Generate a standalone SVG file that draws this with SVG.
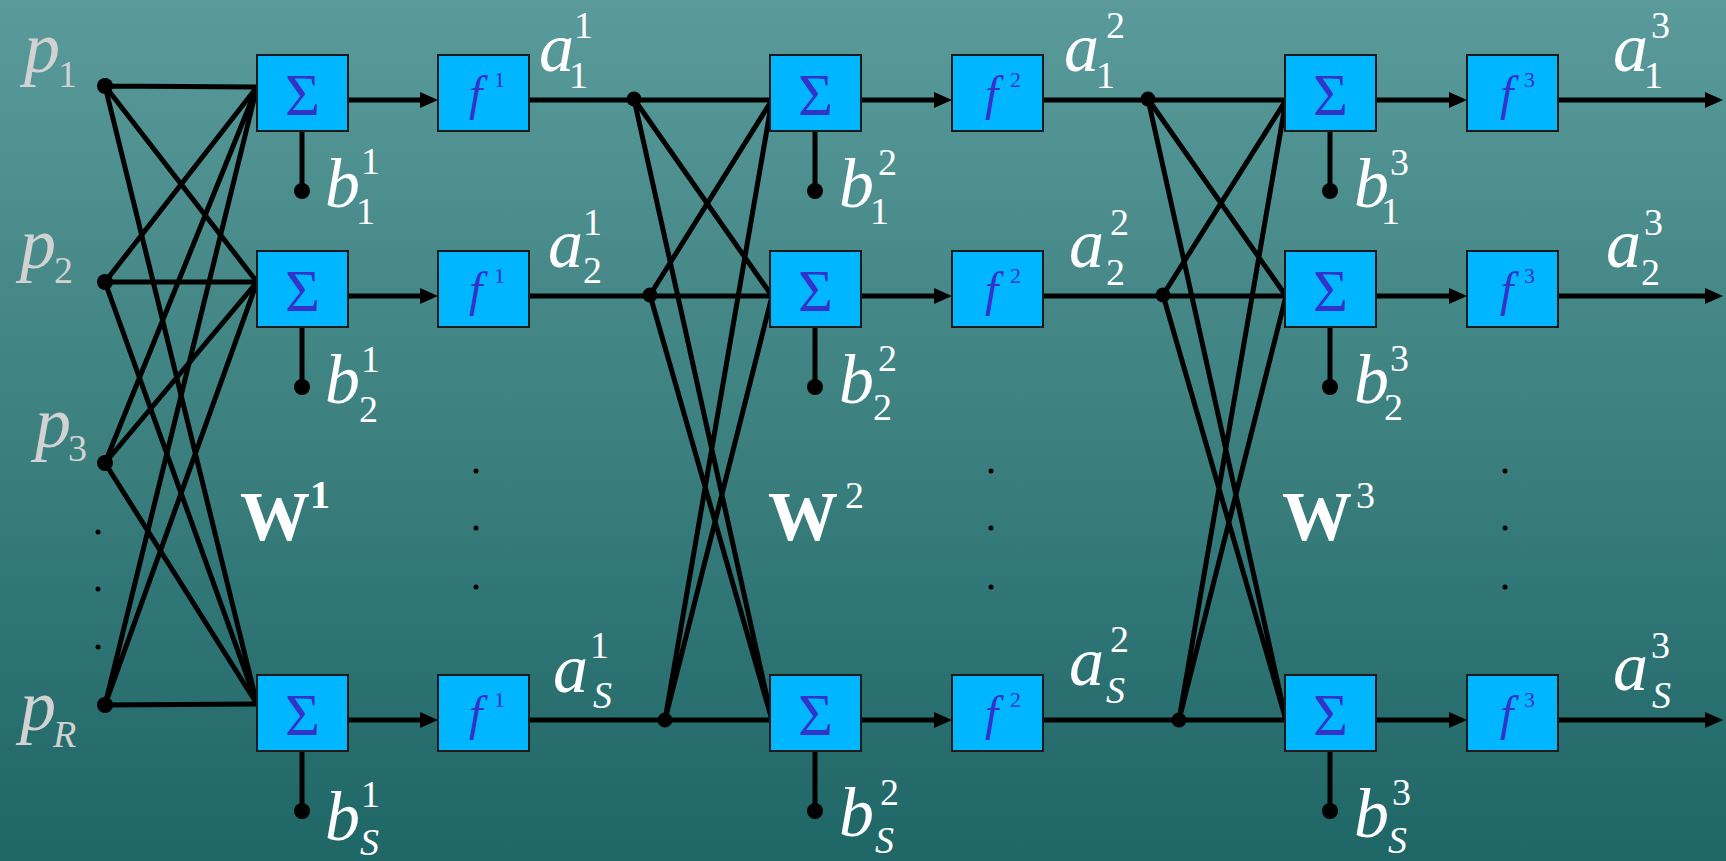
<svg xmlns="http://www.w3.org/2000/svg" width="1726" height="861" viewBox="0 0 1726 861" font-family="Liberation Serif, Times New Roman, DejaVu Serif, serif">
<defs>
<linearGradient id="bg" x1="0" y1="0" x2="0" y2="1">
<stop offset="0" stop-color="#5A9A9A"/>
<stop offset="1" stop-color="#1F6666"/>
</linearGradient>
<marker id="arr" viewBox="0 0 18 16" markerWidth="18" markerHeight="16" refX="8" refY="8" orient="auto" markerUnits="userSpaceOnUse">
<path d="M0,0 L18,8 L0,16 z" fill="#000"/>
</marker>
<style>
.ln{stroke:#000;stroke-width:5;fill:none;stroke-linecap:round}
.ar{stroke:#000;stroke-width:5;fill:none;marker-end:url(#arr)}
.box{fill:#00B6FF;stroke:#1a1a1a;stroke-width:2}
.sig{font-size:60px;fill:#3333CC;text-anchor:middle}
.fn{font-style:italic;font-size:48px;fill:#3333CC}
.fs{font-style:normal;font-size:22px;fill:#3333CC}
.lb{font-style:italic;font-size:70px;fill:#fff}
.pl{font-style:italic;font-size:72px;fill:#D2D2D2}
.sc{font-size:38px;font-style:normal}
.sci{font-size:38px;font-style:italic}
.w{font-weight:bold;font-size:70px;fill:#fff}
.ws{font-weight:normal;font-size:38px}
.dot{fill:#000}
</style>
</defs>
<rect x="0" y="0" width="1726" height="861" fill="url(#bg)"/>

<g id="connectors">
<path class="ln" d="M105,86 L257,87 M105,86 L257,282 M105,86 L257,704"/>
<path class="ln" d="M105,282 L257,87 M105,282 L257,282 M105,282 L257,704"/>
<path class="ln" d="M105,463 L257,87 M105,463 L257,282 M105,463 L257,704"/>
<path class="ln" d="M105,705 L257,87 M105,705 L257,282 M105,705 L257,704"/>
<path class="ln" d="M529,100 L772,100 M529,296 L772,296 M529,720 L772,720"/>
<path class="ln" d="M634,99 L772,296 M634,99 L772,720 M650,295 L772,100 M650,295 L772,720 M665,720 L772,100 M665,720 L772,296"/>
<path class="ln" d="M1043,100 L1286,100 M1043,296 L1286,296 M1043,720 L1286,720"/>
<path class="ln" d="M1148,99 L1286,296 M1148,99 L1286,720 M1163,295 L1286,100 M1163,295 L1286,720 M1179,720 L1286,100 M1179,720 L1286,296"/>
<path class="ar" d="M348,100 L428,100"/>
<path class="ar" d="M348,296 L428,296"/>
<path class="ar" d="M348,720 L428,720"/>
<path class="ar" d="M861,100 L942,100"/>
<path class="ar" d="M861,296 L942,296"/>
<path class="ar" d="M861,720 L942,720"/>
<path class="ar" d="M1376,100 L1457,100"/>
<path class="ar" d="M1376,296 L1457,296"/>
<path class="ar" d="M1376,720 L1457,720"/>
<path class="ar" d="M1557,100 L1713,100"/>
<path class="ar" d="M1557,296 L1713,296"/>
<path class="ar" d="M1557,720 L1713,720"/>
<path class="ln" d="M302,131 L302,191 M302,327 L302,387 M302,751 L302,811"/>
<path class="ln" d="M815,131 L815,191 M815,327 L815,387 M815,751 L815,811"/>
<path class="ln" d="M1330,131 L1330,191 M1330,327 L1330,387 M1330,751 L1330,811"/>
</g>

<g id="inputs">
<circle class="dot" cx="105" cy="86" r="8"/>
<circle class="dot" cx="105" cy="282" r="8"/>
<circle class="dot" cx="105" cy="463" r="8"/>
<circle class="dot" cx="105" cy="705" r="8"/>
<circle class="dot" cx="98" cy="532" r="2.5"/>
<circle class="dot" cx="98" cy="589" r="2.5"/>
<circle class="dot" cx="98" cy="647" r="2.5"/>
<text class="pl" x="24" y="72">p<tspan class="sc" x="58" y="87">1</tspan></text>
<text class="pl" x="20" y="268">p<tspan class="sc" x="54" y="283">2</tspan></text>
<text class="pl" x="35" y="447">p<tspan class="sc" x="68" y="461">3</tspan></text>
<text class="pl" x="20" y="730">p<tspan class="sci" x="53" y="747">R</tspan></text>
</g>

<g id="layer1">
<rect class="box" x="257" y="55" width="91" height="76"/>
<rect class="box" x="257" y="251" width="91" height="76"/>
<rect class="box" x="257" y="675" width="91" height="76"/>
<text class="sig" x="302.5" y="115">Σ</text>
<text class="sig" x="302.5" y="311">Σ</text>
<text class="sig" x="302.5" y="735">Σ</text>
<rect class="box" x="438" y="55" width="91" height="76"/>
<rect class="box" x="438" y="251" width="91" height="76"/>
<rect class="box" x="438" y="675" width="91" height="76"/>
<text class="fn" x="469" y="110">f<tspan class="fs" x="494" y="87">1</tspan></text>
<text class="fn" x="469" y="306">f<tspan class="fs" x="494" y="283">1</tspan></text>
<text class="fn" x="469" y="730">f<tspan class="fs" x="494" y="707">1</tspan></text>
<circle class="dot" cx="302" cy="191" r="8"/>
<circle class="dot" cx="302" cy="387" r="8"/>
<circle class="dot" cx="302" cy="811" r="8"/>
<text class="lb" x="325" y="207">b<tspan class="sc" x="361" y="174">1</tspan><tspan class="sc" x="356" y="224">1</tspan></text>
<text class="lb" x="325" y="403">b<tspan class="sc" x="361" y="372">1</tspan><tspan class="sc" x="359" y="422">2</tspan></text>
<text class="lb" x="325" y="840">b<tspan class="sc" x="361" y="807">1</tspan><tspan class="sci" x="360" y="855">S</tspan></text>
<circle class="dot" cx="634" cy="99" r="7.5"/>
<circle class="dot" cx="650" cy="295" r="7.5"/>
<circle class="dot" cx="665" cy="720" r="7.5"/>
<text class="lb" x="539" y="71">a<tspan class="sc" x="574" y="38">1</tspan><tspan class="sc" x="569" y="88">1</tspan></text>
<text class="lb" x="548" y="267">a<tspan class="sc" x="583" y="235">1</tspan><tspan class="sc" x="583" y="283">2</tspan></text>
<text class="lb" x="553" y="692">a<tspan class="sc" x="590" y="658">1</tspan><tspan class="sci" x="593" y="708">S</tspan></text>
<circle class="dot" cx="476" cy="471" r="2.5"/>
<circle class="dot" cx="476" cy="528" r="2.5"/>
<circle class="dot" cx="476" cy="587" r="2.5"/>
<text class="w" x="240" y="540">W<tspan font-size="40" x="310" y="508">1</tspan></text>
</g>

<g id="layer2">
<rect class="box" x="770" y="55" width="91" height="76"/>
<rect class="box" x="770" y="251" width="91" height="76"/>
<rect class="box" x="770" y="675" width="91" height="76"/>
<text class="sig" x="815.5" y="115">Σ</text>
<text class="sig" x="815.5" y="311">Σ</text>
<text class="sig" x="815.5" y="735">Σ</text>
<rect class="box" x="952" y="55" width="91" height="76"/>
<rect class="box" x="952" y="251" width="91" height="76"/>
<rect class="box" x="952" y="675" width="91" height="76"/>
<text class="fn" x="985" y="110">f<tspan class="fs" x="1010" y="87">2</tspan></text>
<text class="fn" x="985" y="306">f<tspan class="fs" x="1010" y="283">2</tspan></text>
<text class="fn" x="985" y="730">f<tspan class="fs" x="1010" y="707">2</tspan></text>
<circle class="dot" cx="815" cy="191" r="8"/>
<circle class="dot" cx="815" cy="387" r="8"/>
<circle class="dot" cx="815" cy="811" r="8"/>
<text class="lb" x="839" y="207">b<tspan class="sc" x="878" y="175">2</tspan><tspan class="sc" x="870" y="224">1</tspan></text>
<text class="lb" x="839" y="403">b<tspan class="sc" x="878" y="371">2</tspan><tspan class="sc" x="873" y="420">2</tspan></text>
<text class="lb" x="839" y="836">b<tspan class="sc" x="880" y="805">2</tspan><tspan class="sci" x="875" y="853">S</tspan></text>
<circle class="dot" cx="1148" cy="99" r="7.5"/>
<circle class="dot" cx="1163" cy="295" r="7.5"/>
<circle class="dot" cx="1179" cy="720" r="7.5"/>
<text class="lb" x="1064" y="71">a<tspan class="sc" x="1106" y="38">2</tspan><tspan class="sc" x="1096" y="88">1</tspan></text>
<text class="lb" x="1069" y="267">a<tspan class="sc" x="1110" y="235">2</tspan><tspan class="sc" x="1106" y="285">2</tspan></text>
<text class="lb" x="1069" y="685">a<tspan class="sc" x="1110" y="652">2</tspan><tspan class="sci" x="1106" y="703">S</tspan></text>
<circle class="dot" cx="991" cy="471" r="2.5"/>
<circle class="dot" cx="991" cy="528" r="2.5"/>
<circle class="dot" cx="991" cy="587" r="2.5"/>
<text class="w" x="768" y="540">W<tspan class="ws" x="845" y="508">2</tspan></text>
</g>

<g id="layer3">
<rect class="box" x="1285" y="55" width="91" height="76"/>
<rect class="box" x="1285" y="251" width="91" height="76"/>
<rect class="box" x="1285" y="675" width="91" height="76"/>
<text class="sig" x="1330.5" y="115">Σ</text>
<text class="sig" x="1330.5" y="311">Σ</text>
<text class="sig" x="1330.5" y="735">Σ</text>
<rect class="box" x="1467" y="55" width="91" height="76"/>
<rect class="box" x="1467" y="251" width="91" height="76"/>
<rect class="box" x="1467" y="675" width="91" height="76"/>
<text class="fn" x="1500" y="110">f<tspan class="fs" x="1524" y="87">3</tspan></text>
<text class="fn" x="1500" y="306">f<tspan class="fs" x="1524" y="283">3</tspan></text>
<text class="fn" x="1500" y="730">f<tspan class="fs" x="1524" y="707">3</tspan></text>
<circle class="dot" cx="1330" cy="191" r="8"/>
<circle class="dot" cx="1330" cy="387" r="8"/>
<circle class="dot" cx="1330" cy="811" r="8"/>
<text class="lb" x="1354" y="207">b<tspan class="sc" x="1390" y="175">3</tspan><tspan class="sc" x="1381" y="224">1</tspan></text>
<text class="lb" x="1354" y="403">b<tspan class="sc" x="1390" y="371">3</tspan><tspan class="sc" x="1384" y="420">2</tspan></text>
<text class="lb" x="1354" y="837">b<tspan class="sc" x="1392" y="805">3</tspan><tspan class="sci" x="1388" y="853">S</tspan></text>
<text class="lb" x="1613" y="71">a<tspan class="sc" x="1651" y="38">3</tspan><tspan class="sc" x="1644" y="88">1</tspan></text>
<text class="lb" x="1606" y="267">a<tspan class="sc" x="1644" y="235">3</tspan><tspan class="sc" x="1641" y="285">2</tspan></text>
<text class="lb" x="1613" y="690">a<tspan class="sc" x="1651" y="658">3</tspan><tspan class="sci" x="1652" y="708">S</tspan></text>
<circle class="dot" cx="1505" cy="471" r="2.5"/>
<circle class="dot" cx="1505" cy="528" r="2.5"/>
<circle class="dot" cx="1505" cy="587" r="2.5"/>
<text class="w" x="1282" y="540">W<tspan class="ws" x="1356" y="508">3</tspan></text>
</g>
</svg>
